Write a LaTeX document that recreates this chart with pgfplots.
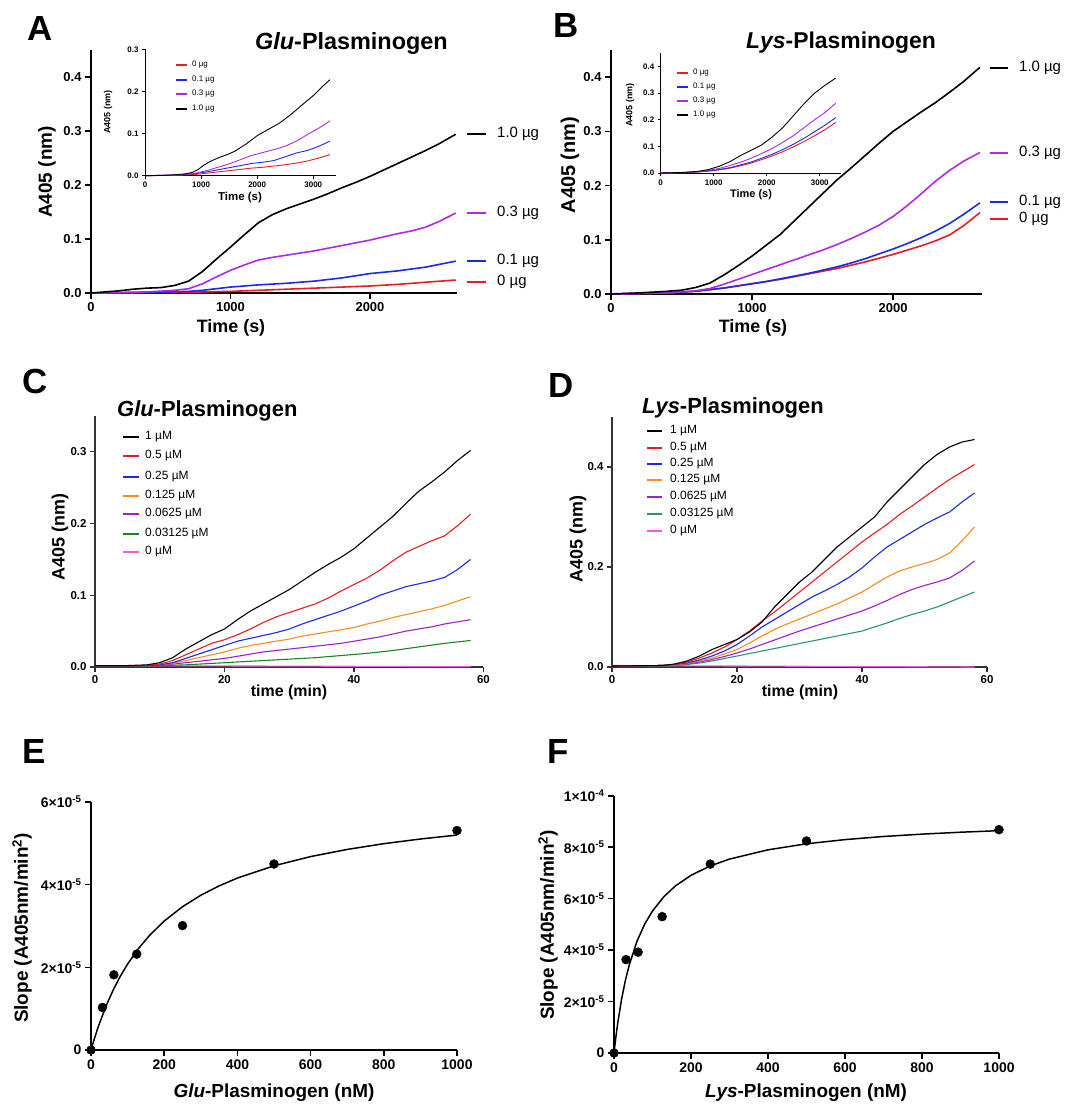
\documentclass[border=0pt]{standalone}
\usepackage{pgfplots}
\pgfplotsset{compat=1.18}
\usepackage{fontspec}
\setmainfont{Liberation Sans}

\definecolor{cred}{RGB}{232,28,36}
\definecolor{cblue}{RGB}{28,40,236}
\definecolor{cpurp}{RGB}{176,40,230}
\definecolor{corange}{RGB}{250,140,30}
\definecolor{cviolet}{RGB}{160,30,210}
\definecolor{cgreen}{RGB}{20,135,30}
\definecolor{cteal}{RGB}{40,150,110}
\definecolor{cpink}{RGB}{240,90,220}

\newcommand{\fs}[1]{\fontsize{#1}{#1}\selectfont}
% legend entry: x1, x2, text x, y, line style, font, text
\newcommand{\lent}[7]{%
  \draw[#5] (#1bp,-#4bp) -- (#2bp,-#4bp);
  \node[anchor=west, inner sep=0pt, font=#6] at (#3bp,-#4bp) {#7};}

\pgfplotsset{
  gp/.style={
    scale only axis, anchor=south west,
    axis lines=left, axis line style={-},
    tick align=outside, clip=false,
    scaled ticks=false,
    /pgf/number format/assume math mode=true,
    /pgf/number format/1000 sep={},
    tick style={black},
    minor tick num=0,
  },
  dec1/.style={yticklabel style={/pgf/number format/.cd,fixed,fixed zerofill,precision=1}},
}

\begin{document}
\begin{tikzpicture}
\path[use as bounding box] (0,0) rectangle (1065bp,-1105bp);

% ---------------- A main
\begin{axis}[gp, dec1, at={(91bp,-293bp)}, width=366bp, height=243bp,
  xmin=0, xmax=2624, ymin=0, ymax=0.45,
  xtick={0,1000,2000}, ytick={0,0.1,0.2,0.3,0.4},
  axis line style={line width=1.8pt}, major tick length=6bp, tick style={line width=1.5pt},
  ticklabel style={font=\bfseries\fs{13}}]
\addplot[cred, line width=1.6pt] coordinates {(0,0)(600,0.001)(1000,0.003)(1200,0.005)(1400,0.007)(1600,0.009)(1800,0.011)(2000,0.013)(2200,0.016)(2400,0.020)(2615,0.024)};
\addplot[cblue, line width=1.6pt] coordinates {(0,0)(400,0.001)(700,0.003)(800,0.005)(900,0.008)(1000,0.011)(1200,0.015)(1400,0.018)(1600,0.022)(1800,0.028)(2000,0.036)(2200,0.041)(2400,0.048)(2615,0.059)};
\addplot[cpurp, line width=1.6pt] coordinates {(0,0)(200,0.001)(400,0.002)(600,0.005)(700,0.008)(800,0.017)(900,0.03)(1000,0.042)(1100,0.052)(1200,0.061)(1300,0.066)(1400,0.070)(1500,0.074)(1600,0.078)(1700,0.083)(1800,0.088)(1900,0.093)(2000,0.098)(2100,0.104)(2200,0.110)(2300,0.115)(2400,0.122)(2500,0.133)(2615,0.148)};
\addplot[black, line width=1.6pt] coordinates {(0,0)(100,0.002)(200,0.004)(300,0.007)(400,0.009)(500,0.010)(600,0.014)(700,0.022)(800,0.04)(900,0.063)(1000,0.085)(1100,0.108)(1200,0.13)(1300,0.145)(1400,0.156)(1500,0.165)(1600,0.174)(1700,0.184)(1800,0.195)(1900,0.205)(2000,0.216)(2100,0.228)(2200,0.240)(2300,0.252)(2400,0.264)(2500,0.277)(2615,0.294)};
\end{axis}

% ---------------- A inset
\begin{axis}[gp, dec1, at={(145bp,-175.7bp)}, width=190.7bp, height=126.4bp,
  xmin=0, xmax=3400, ymin=0, ymax=0.3,
  xtick={0,1000,2000,3000}, ytick={0,0.1,0.2,0.3},
  axis line style={line width=0.8pt}, major tick length=3bp, tick style={line width=0.8pt},
  ticklabel style={font=\bfseries\fs{8}}]
\addplot[cred, line width=0.9pt] coordinates {(0,0)(600,0.001)(900,0.003)(1100,0.006)(1300,0.009)(1500,0.012)(1700,0.015)(1900,0.018)(2100,0.02)(2300,0.023)(2500,0.026)(2700,0.03)(2900,0.035)(3100,0.042)(3300,0.05)};
\addplot[cblue, line width=0.9pt] coordinates {(0,0)(600,0.002)(900,0.005)(1100,0.009)(1300,0.014)(1500,0.019)(1700,0.024)(1900,0.029)(2100,0.032)(2300,0.036)(2500,0.045)(2700,0.054)(2900,0.06)(3100,0.07)(3300,0.082)};
\addplot[cpurp, line width=0.9pt] coordinates {(0,0)(600,0.002)(900,0.006)(1100,0.012)(1300,0.02)(1500,0.028)(1700,0.038)(1900,0.048)(2100,0.055)(2300,0.062)(2500,0.07)(2700,0.082)(2900,0.098)(3100,0.113)(3300,0.13)};
\addplot[black, line width=0.9pt] coordinates {(0,0)(400,0.001)(700,0.004)(850,0.008)(950,0.015)(1050,0.025)(1150,0.033)(1300,0.042)(1500,0.052)(1600,0.058)(1800,0.075)(2000,0.095)(2200,0.11)(2400,0.125)(2600,0.145)(2800,0.168)(3000,0.19)(3150,0.21)(3300,0.228)};
\end{axis}

% ---------------- B main
\begin{axis}[gp, dec1, at={(611bp,-294bp)}, width=371bp, height=244bp,
  xmin=0, xmax=2630, ymin=0, ymax=0.45,
  xtick={0,1000,2000}, ytick={0,0.1,0.2,0.3,0.4},
  axis line style={line width=1.8pt}, major tick length=6bp, tick style={line width=1.5pt},
  ticklabel style={font=\bfseries\fs{13}}]
\addplot[cred, line width=1.6pt] coordinates {(0,0)(400,0.002)(600,0.005)(700,0.008)(800,0.011)(900,0.015)(1000,0.019)(1100,0.023)(1200,0.027)(1300,0.032)(1400,0.037)(1500,0.042)(1600,0.047)(1700,0.053)(1800,0.059)(1900,0.066)(2000,0.073)(2100,0.081)(2200,0.089)(2300,0.098)(2400,0.109)(2500,0.126)(2615,0.150)};
\addplot[cblue, line width=1.6pt] coordinates {(0,0)(400,0.002)(600,0.005)(700,0.008)(800,0.011)(900,0.015)(1000,0.019)(1100,0.023)(1200,0.028)(1300,0.033)(1400,0.038)(1500,0.044)(1600,0.05)(1700,0.057)(1800,0.065)(1900,0.074)(2000,0.083)(2100,0.093)(2200,0.104)(2300,0.116)(2400,0.13)(2500,0.147)(2615,0.168)};
\addplot[cpurp, line width=1.6pt] coordinates {(0,0)(400,0.002)(600,0.006)(700,0.01)(800,0.018)(900,0.027)(1000,0.036)(1100,0.045)(1200,0.054)(1300,0.063)(1400,0.072)(1500,0.081)(1600,0.091)(1700,0.102)(1800,0.114)(1900,0.127)(2000,0.143)(2100,0.163)(2200,0.185)(2300,0.208)(2400,0.228)(2500,0.245)(2615,0.261)};
\addplot[black, line width=1.6pt] coordinates {(0,0)(200,0.002)(400,0.005)(500,0.007)(600,0.012)(700,0.02)(800,0.035)(900,0.052)(1000,0.07)(1100,0.09)(1200,0.11)(1300,0.135)(1400,0.16)(1500,0.185)(1600,0.21)(1700,0.232)(1800,0.255)(1900,0.278)(2000,0.3)(2100,0.318)(2200,0.336)(2300,0.353)(2400,0.372)(2500,0.392)(2615,0.418)};
\end{axis}

% ---------------- B inset
\begin{axis}[gp, dec1, at={(660.7bp,-173bp)}, width=180.3bp, height=119.7bp,
  xmin=0, xmax=3400, ymin=0, ymax=0.45,
  xtick={0,1000,2000,3000}, ytick={0,0.1,0.2,0.3,0.4},
  axis line style={line width=0.8pt}, major tick length=3bp, tick style={line width=0.8pt},
  ticklabel style={font=\bfseries\fs{8}}]
\addplot[cred, line width=0.9pt] coordinates {(0,0)(400,0.001)(700,0.004)(900,0.007)(1100,0.012)(1300,0.018)(1500,0.027)(1700,0.037)(1900,0.05)(2100,0.064)(2300,0.08)(2500,0.098)(2700,0.118)(2900,0.14)(3100,0.163)(3300,0.19)};
\addplot[cblue, line width=0.9pt] coordinates {(0,0)(400,0.001)(700,0.004)(900,0.008)(1100,0.013)(1300,0.02)(1500,0.03)(1700,0.041)(1900,0.055)(2100,0.07)(2300,0.088)(2500,0.108)(2700,0.13)(2900,0.155)(3100,0.18)(3300,0.208)};
\addplot[cpurp, line width=0.9pt] coordinates {(0,0)(400,0.001)(700,0.005)(900,0.01)(1100,0.017)(1300,0.028)(1500,0.04)(1700,0.055)(1900,0.073)(2100,0.092)(2300,0.115)(2500,0.14)(2700,0.17)(2900,0.2)(3100,0.228)(3300,0.262)};
\addplot[black, line width=0.9pt] coordinates {(0,0)(400,0.002)(700,0.006)(900,0.013)(1100,0.025)(1300,0.042)(1500,0.065)(1700,0.085)(1900,0.105)(2100,0.135)(2300,0.17)(2500,0.215)(2700,0.26)(2900,0.3)(3100,0.33)(3300,0.357)};
\end{axis}

% ---------------- C
\begin{axis}[gp, dec1, at={(95bp,-667bp)}, width=388.5bp, height=251bp,
  xmin=0, xmax=60, ymin=0, ymax=0.35,
  xtick={0,20,40,60}, ytick={0,0.1,0.2,0.3},
  axis line style={line width=1.4pt, black!80}, major tick length=5bp, tick style={line width=1.2pt, black!80},
  ticklabel style={font=\bfseries\fs{11.5}}]
\addplot[cpink, line width=1.1pt] coordinates {(0,0.002)(20,0.0015)(40,0.001)(58,0.0005)};
\addplot[cgreen, line width=1.1pt] coordinates {(0,0.002)(10,0.002)(14,0.003)(18,0.005)(22,0.007)(26,0.009)(30,0.011)(34,0.013)(38,0.016)(42,0.019)(46,0.023)(50,0.028)(54,0.033)(58,0.037)};
\addplot[cviolet, line width=1.1pt] coordinates {(0,0.002)(8,0.002)(10,0.003)(12,0.004)(14,0.006)(16,0.008)(18,0.01)(20,0.012)(22,0.015)(24,0.018)(26,0.021)(28,0.023)(30,0.025)(32,0.027)(34,0.029)(36,0.031)(38,0.033)(40,0.036)(42,0.039)(44,0.042)(46,0.046)(48,0.05)(50,0.053)(52,0.056)(54,0.06)(56,0.063)(58,0.066)};
\addplot[corange, line width=1.1pt] coordinates {(0,0.002)(8,0.002)(10,0.003)(12,0.005)(14,0.009)(16,0.013)(18,0.017)(20,0.021)(22,0.026)(24,0.03)(26,0.033)(28,0.036)(30,0.039)(32,0.043)(34,0.046)(36,0.049)(38,0.052)(40,0.055)(42,0.06)(44,0.064)(46,0.069)(48,0.073)(50,0.077)(52,0.081)(54,0.086)(56,0.092)(58,0.098)};
\addplot[cblue, line width=1.1pt] coordinates {(0,0.002)(8,0.002)(10,0.003)(12,0.006)(14,0.012)(16,0.018)(18,0.024)(20,0.03)(22,0.036)(24,0.04)(26,0.044)(28,0.048)(30,0.053)(32,0.06)(34,0.066)(36,0.072)(38,0.078)(40,0.085)(42,0.092)(44,0.1)(46,0.106)(48,0.112)(50,0.116)(52,0.12)(54,0.125)(56,0.136)(58,0.15)};
\addplot[cred, line width=1.1pt] coordinates {(0,0.002)(8,0.002)(10,0.004)(12,0.009)(14,0.017)(16,0.025)(18,0.033)(20,0.038)(22,0.045)(24,0.053)(26,0.062)(28,0.07)(30,0.076)(32,0.082)(34,0.088)(36,0.096)(38,0.106)(40,0.115)(42,0.124)(44,0.135)(46,0.148)(48,0.16)(50,0.168)(52,0.176)(54,0.183)(56,0.197)(58,0.213)};
\addplot[black, line width=1.1pt] coordinates {(0,0.002)(5,0.002)(8,0.003)(10,0.006)(12,0.013)(14,0.025)(16,0.035)(18,0.045)(20,0.053)(22,0.066)(24,0.078)(26,0.088)(28,0.098)(30,0.108)(32,0.12)(34,0.132)(36,0.143)(38,0.153)(40,0.165)(42,0.18)(44,0.195)(46,0.21)(48,0.228)(50,0.245)(52,0.258)(54,0.272)(56,0.288)(58,0.302)};
\end{axis}

% ---------------- D
\begin{axis}[gp, dec1, at={(612bp,-667bp)}, width=375bp, height=250bp,
  xmin=0, xmax=60, ymin=0, ymax=0.5,
  xtick={0,20,40,60}, ytick={0,0.2,0.4},
  axis line style={line width=1.4pt, black!80}, major tick length=5bp, tick style={line width=1.2pt, black!80},
  ticklabel style={font=\bfseries\fs{11.5}}]
\addplot[cpink, line width=1.1pt] coordinates {(0,0.003)(20,0.002)(40,0.001)(58,0.0)};
\addplot[cteal, line width=1.1pt] coordinates {(0,0.002)(8,0.002)(10,0.003)(12,0.005)(14,0.008)(16,0.012)(18,0.017)(20,0.022)(22,0.027)(24,0.032)(26,0.037)(28,0.042)(30,0.047)(32,0.052)(34,0.057)(36,0.062)(38,0.067)(40,0.072)(42,0.08)(44,0.088)(46,0.097)(48,0.105)(50,0.112)(52,0.12)(54,0.13)(56,0.14)(58,0.15)};
\addplot[cviolet, line width=1.1pt] coordinates {(0,0.002)(8,0.003)(10,0.004)(12,0.006)(14,0.01)(16,0.015)(18,0.021)(20,0.028)(22,0.036)(24,0.045)(26,0.054)(28,0.063)(30,0.072)(32,0.08)(34,0.088)(36,0.096)(38,0.104)(40,0.112)(42,0.122)(44,0.133)(46,0.145)(48,0.155)(50,0.163)(52,0.17)(54,0.178)(56,0.193)(58,0.212)};
\addplot[corange, line width=1.1pt] coordinates {(0,0.002)(8,0.003)(10,0.004)(12,0.007)(14,0.012)(16,0.018)(18,0.026)(20,0.035)(22,0.048)(24,0.062)(26,0.075)(28,0.086)(30,0.096)(32,0.106)(34,0.116)(36,0.126)(38,0.138)(40,0.15)(42,0.165)(44,0.18)(46,0.192)(48,0.2)(50,0.207)(52,0.215)(54,0.228)(56,0.252)(58,0.28)};
\addplot[cblue, line width=1.1pt] coordinates {(0,0.002)(8,0.003)(10,0.005)(12,0.008)(14,0.014)(16,0.022)(18,0.032)(20,0.045)(22,0.062)(24,0.08)(26,0.095)(28,0.11)(30,0.125)(32,0.14)(34,0.152)(36,0.165)(38,0.18)(40,0.198)(42,0.22)(44,0.24)(46,0.255)(48,0.27)(50,0.285)(52,0.298)(54,0.31)(56,0.33)(58,0.348)};
\addplot[cred, line width=1.1pt] coordinates {(0,0.002)(8,0.003)(10,0.005)(12,0.01)(14,0.018)(16,0.028)(18,0.04)(20,0.055)(22,0.072)(24,0.092)(26,0.11)(28,0.13)(30,0.15)(32,0.17)(34,0.19)(36,0.21)(38,0.23)(40,0.25)(42,0.268)(44,0.285)(46,0.305)(48,0.322)(50,0.34)(52,0.358)(54,0.375)(56,0.39)(58,0.405)};
\addplot[black, line width=1.1pt] coordinates {(0,0.002)(8,0.003)(10,0.006)(12,0.012)(14,0.022)(16,0.035)(18,0.045)(20,0.055)(22,0.07)(24,0.09)(26,0.12)(28,0.145)(30,0.17)(32,0.19)(34,0.215)(36,0.24)(38,0.26)(40,0.28)(42,0.3)(44,0.33)(46,0.355)(48,0.38)(50,0.405)(52,0.425)(54,0.44)(56,0.45)(58,0.455)};
\end{axis}

% ---------------- E
\begin{axis}[gp, at={(91bp,-1050bp)}, width=366bp, height=248bp,
  xmin=0, xmax=1000, ymin=0, ymax=6e-5,
  xtick={0,200,400,600,800,1000}, ytick={0,2e-5,4e-5,6e-5},
  yticklabels={0, 2×10\textsuperscript{-5}, 4×10\textsuperscript{-5}, 6×10\textsuperscript{-5}},
  axis line style={line width=2pt}, major tick length=6bp, tick style={line width=1.6pt},
  ticklabel style={font=\bfseries\fs{14}}]
\addplot[black, line width=1.5pt] coordinates {(0,0)(5,0.152e-5)(10,0.297e-5)(20,0.567e-5)(40,1.04e-5)(60,1.44e-5)(80,1.783e-5)(100,2.08e-5)(130,2.458e-5)(160,2.773e-5)(200,3.12e-5)(250,3.467e-5)(300,3.744e-5)(350,3.971e-5)(400,4.16e-5)(500,4.457e-5)(600,4.68e-5)(700,4.853e-5)(800,4.992e-5)(900,5.105e-5)(1000,5.2e-5)};
\addplot[only marks, mark=*, mark size=4.5pt, black] coordinates {(0,0)(31.25,1.03e-5)(62.5,1.82e-5)(125,2.32e-5)(250,3.01e-5)(500,4.5e-5)(1000,5.31e-5)};
\end{axis}

% ---------------- F
\begin{axis}[gp, at={(614bp,-1053bp)}, width=385bp, height=257.3bp,
  xmin=0, xmax=1000, ymin=0, ymax=1e-4,
  xtick={0,200,400,600,800,1000}, ytick={0,2e-5,4e-5,6e-5,8e-5,1e-4},
  yticklabels={0, 2×10\textsuperscript{-5}, 4×10\textsuperscript{-5}, 6×10\textsuperscript{-5}, 8×10\textsuperscript{-5}, 1×10\textsuperscript{-4}},
  axis line style={line width=2pt}, major tick length=6bp, tick style={line width=1.6pt},
  ticklabel style={font=\bfseries\fs{14}}]
\addplot[black, line width=1.5pt] coordinates {(0,0)(5,0.64e-5)(10,1.197e-5)(20,2.12e-5)(30,2.852e-5)(40,3.447e-5)(60,4.356e-5)(80,5.018e-5)(100,5.521e-5)(130,6.084e-5)(160,6.499e-5)(200,6.906e-5)(250,7.271e-5)(300,7.537e-5)(400,7.897e-5)(500,8.131e-5)(600,8.294e-5)(700,8.415e-5)(800,8.507e-5)(900,8.581e-5)(1000,8.641e-5)};
\addplot[only marks, mark=*, mark size=4.5pt, black] coordinates {(0,0)(31.25,3.63e-5)(62.5,3.92e-5)(125,5.30e-5)(250,7.34e-5)(500,8.24e-5)(1000,8.68e-5)};
\end{axis}

% ---------------- panel letters and titles
\tikzset{pl/.style={anchor=base west, inner sep=0pt, font=\bfseries\fs{35}}}
\node[pl] at (27bp,-40bp) {A};
\node[pl] at (553bp,-37bp) {B};
\node[pl] at (22bp,-393bp) {C};
\node[pl] at (548bp,-397bp) {D};
\node[pl] at (22bp,-763bp) {E};
\node[pl] at (547bp,-763bp) {F};

\node[anchor=base west, inner sep=0pt, font=\bfseries\fs{23.5}] at (255bp,-49bp) {\textit{Glu}-Plasminogen};
\node[anchor=base west, inner sep=0pt, font=\bfseries\fs{23}] at (746bp,-48bp) {\textit{Lys}-Plasminogen};
\node[anchor=base west, inner sep=0pt, font=\bfseries\fs{22}] at (117bp,-416bp) {\textit{Glu}-Plasminogen};
\node[anchor=base west, inner sep=0pt, font=\bfseries\fs{22}] at (642bp,-413bp) {\textit{Lys}-Plasminogen};

% ---------------- axis labels
\tikzset{yl/.style={rotate=90, inner sep=0pt}}
\node[yl, font=\bfseries\fs{19}] at (47bp,-172bp) {A405 (nm)};
\node[yl, font=\bfseries\fs{20}] at (570bp,-165bp) {A405 (nm)};
\node[font=\bfseries\fs{18}, inner sep=0pt] at (231bp,-328bp) {Time (s)};
\node[font=\bfseries\fs{18}, inner sep=0pt] at (753bp,-328bp) {Time (s)};
\node[yl, font=\bfseries\fs{9}] at (108bp,-112bp) {A405 (nm)};
\node[yl, font=\bfseries\fs{9}] at (630bp,-105bp) {A405 (nm)};
\node[font=\bfseries\fs{11.5}, inner sep=0pt] at (240bp,-198bp) {Time (s)};
\node[font=\bfseries\fs{11}, inner sep=0pt] at (751bp,-195bp) {Time (s)};

\node[yl, font=\bfseries\fs{18}] at (60bp,-537bp) {A405 (nm)};
\node[yl, font=\bfseries\fs{18}] at (578bp,-539bp) {A405 (nm)};
\node[font=\bfseries\fs{16}, inner sep=0pt] at (289bp,-692bp) {time (min)};
\node[font=\bfseries\fs{16}, inner sep=0pt] at (800bp,-692bp) {time (min)};

\node[yl, font=\bfseries\fs{19}] at (22bp,-928bp) {Slope (A405nm/min\textsuperscript{2})};
\node[yl, font=\bfseries\fs{19}] at (548bp,-925bp) {Slope (A405nm/min\textsuperscript{2})};
\node[font=\bfseries\fs{19}, inner sep=0pt] at (274bp,-1093bp) {\textit{Glu}-Plasminogen (nM)};
\node[font=\bfseries\fs{19}, inner sep=0pt] at (806bp,-1093bp) {\textit{Lys}-Plasminogen (nM)};

% ---------------- series labels A and B
\lent{467}{486}{497}{134}{black, line width=1.6pt}{\fs{15}}{1.0 µg}
\lent{467}{486}{497}{213}{cpurp, line width=1.6pt}{\fs{15}}{0.3 µg}
\lent{467}{486}{497}{261}{cblue, line width=1.6pt}{\fs{15}}{0.1 µg}
\lent{467}{486}{497}{282}{cred, line width=1.6pt}{\fs{15}}{0 µg}
\lent{990}{1008}{1019}{68}{black, line width=1.6pt}{\fs{15}}{1.0 µg}
\lent{990}{1008}{1019}{153}{cpurp, line width=1.6pt}{\fs{15}}{0.3 µg}
\lent{990}{1008}{1019}{202}{cblue, line width=1.6pt}{\fs{15}}{0.1 µg}
\lent{990}{1008}{1019}{219}{cred, line width=1.6pt}{\fs{15}}{0 µg}

% inset legends
\lent{176}{187}{192}{65}{cred, line width=1.2pt}{\fs{8}}{0 µg}
\lent{176}{187}{192}{80}{cblue, line width=1.2pt}{\fs{8}}{0.1 µg}
\lent{176}{187}{192}{94}{cpurp, line width=1.2pt}{\fs{8}}{0.3 µg}
\lent{176}{187}{192}{109}{black, line width=1.2pt}{\fs{8}}{1.0 µg}
\lent{677}{688}{693}{73}{cred, line width=1.2pt}{\fs{8}}{0 µg}
\lent{677}{688}{693}{87}{cblue, line width=1.2pt}{\fs{8}}{0.1 µg}
\lent{677}{688}{693}{101}{cpurp, line width=1.2pt}{\fs{8}}{0.3 µg}
\lent{677}{688}{693}{115}{black, line width=1.2pt}{\fs{8}}{1.0 µg}

% C legend
\lent{123}{139}{145}{437}{black, line width=1.1pt}{\fs{12}}{1 µM}
\lent{123}{139}{145}{456}{cred, line width=1.1pt}{\fs{12}}{0.5 µM}
\lent{123}{139}{145}{477}{cblue, line width=1.1pt}{\fs{12}}{0.25 µM}
\lent{123}{139}{145}{496}{corange, line width=1.1pt}{\fs{12}}{0.125 µM}
\lent{123}{139}{145}{514}{cviolet, line width=1.1pt}{\fs{12}}{0.0625 µM}
\lent{123}{139}{145}{534}{cgreen, line width=1.1pt}{\fs{12}}{0.03125 µM}
\lent{123}{139}{145}{552}{cpink, line width=1.1pt}{\fs{12}}{0 µM}
% D legend
\lent{647}{662}{670}{431}{black, line width=1.1pt}{\fs{12}}{1 µM}
\lent{647}{662}{670}{448}{cred, line width=1.1pt}{\fs{12}}{0.5 µM}
\lent{647}{662}{670}{464}{cblue, line width=1.1pt}{\fs{12}}{0.25 µM}
\lent{647}{662}{670}{480}{corange, line width=1.1pt}{\fs{12}}{0.125 µM}
\lent{647}{662}{670}{497}{cviolet, line width=1.1pt}{\fs{12}}{0.0625 µM}
\lent{647}{662}{670}{514}{cteal, line width=1.1pt}{\fs{12}}{0.03125 µM}
\lent{647}{662}{670}{531}{cpink, line width=1.1pt}{\fs{12}}{0 µM}
\end{tikzpicture}
\end{document}
